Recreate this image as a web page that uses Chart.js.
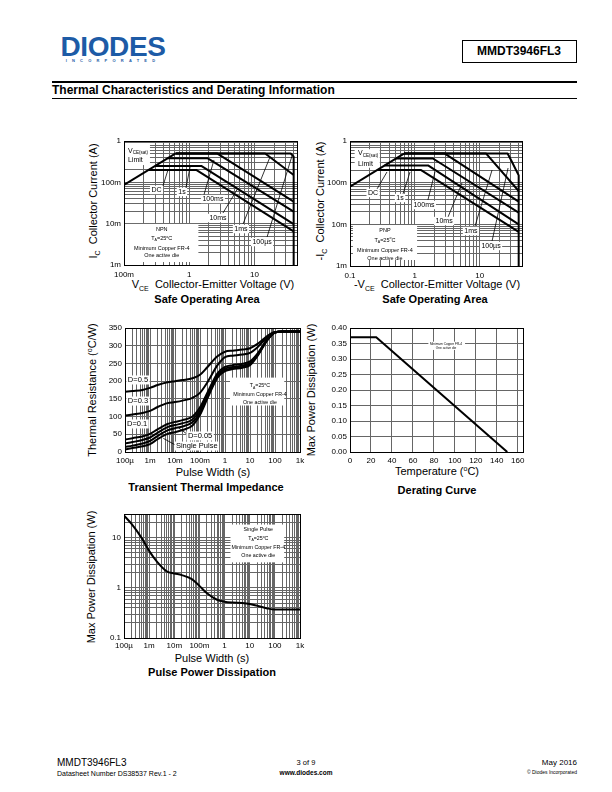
<!DOCTYPE html>
<html>
<head>
<meta charset="utf-8">
<script src="https://cdn.jsdelivr.net/npm/chart.js@4.4.1/dist/chart.umd.min.js"></script>
<style>
  body { margin: 0; width: 612px; height: 792px; background: #fff; position: relative; overflow: hidden;
         font-family: 'Liberation Sans', Arial, Helvetica, sans-serif; color: #000; }
  .t { position: absolute; white-space: nowrap; line-height: 1; transform: translate(-50%, -50%); }
  .l { position: absolute; white-space: nowrap; line-height: 1; transform: translate(0, -50%); }
  .rt { position: absolute; white-space: nowrap; line-height: 1; transform: translate(0, -50%); text-align: right; }
  .v { position: absolute; white-space: nowrap; line-height: 1; transform: translate(-50%, -50%) rotate(-90deg); font-size: 11px; }
  .ax { font-size: 11px; }
  .cap { font-size: 11px; font-weight: bold; }
  sub { font-size: 7px; vertical-align: -3px; line-height: 0; }
  sup { font-size: 7px; vertical-align: 4px; line-height: 0; }
  canvas { position: absolute; }
</style>
</head>
<body>

<!-- header -->
<div class="t" style="left:113px; top:47px; font-size:28px; font-weight:bold; color:#1d5ba6; letter-spacing:-0.4px;">DIODES</div>
<div class="t" style="left:113px; top:61px; font-size:4px; font-weight:bold; color:#1d5ba6; letter-spacing:5.2px;">INCORPORATED</div>
<div style="position:absolute; left:462px; top:40px; width:113px; height:21px; border:1px solid #000;"></div>
<div class="t" style="left:519px; top:51px; font-size:12px; font-weight:bold;">MMDT3946FL3</div>
<div style="position:absolute; left:52px; top:81px; width:525px; height:2px; background:#000;"></div>
<div class="l" style="left:52px; top:90px; font-size:12px; font-weight:bold;">Thermal Characteristics and Derating Information</div>
<div style="position:absolute; left:52px; top:98px; width:525px; height:1px; background:#000;"></div>

<!-- SOA NPN texts -->
<div class="v" style="left:93px; top:201px;">I<sub>C</sub>&nbsp; Collector Current (A)</div>
<div class="t ax" style="left:213px; top:284px;">V<sub>CE</sub>&nbsp; Collector-Emitter Voltage (V)</div>
<div class="t cap" style="left:207px; top:299px;">Safe Operating Area</div>

<!-- SOA PNP texts -->
<div class="v" style="left:320px; top:201px;">-I<sub>C</sub>&nbsp; Collector Current (A)</div>
<div class="t ax" style="left:437px; top:284px;">-V<sub>CE</sub>&nbsp; Collector-Emitter Voltage (V)</div>
<div class="t cap" style="left:435px; top:299px;">Safe Operating Area</div>

<!-- transient texts -->
<div class="v" style="left:92px; top:390px;">Thermal Resistance (<sup>o</sup>C/W)</div>
<div class="t ax" style="left:213px; top:472px;">Pulse Width (s)</div>
<div class="t cap" style="left:206px; top:487px;">Transient Thermal Impedance</div>

<!-- derating texts -->
<div class="v" style="left:311px; top:390px;">Max Power Dissipation (W)</div>
<div class="t ax" style="left:437px; top:471px;">Temperature (<sup>o</sup>C)</div>
<div class="t cap" style="left:437px; top:490px;">Derating Curve</div>

<!-- pulse power texts -->
<div class="v" style="left:91px; top:577px;">Max Power Dissipation (W)</div>
<div class="t ax" style="left:212px; top:658px;">Pulse Width (s)</div>
<div class="t cap" style="left:212px; top:672px;">Pulse Power Dissipation</div>

<!-- footer -->
<div class="l" style="left:57px; top:763px; font-size:10px;">MMDT3946FL3</div>
<div class="l" style="left:57px; top:773px; font-size:7px;">Datasheet Number DS38537 Rev.1 - 2</div>
<div class="t" style="left:306px; top:763px; font-size:7.5px;">3 of 9</div>
<div class="t" style="left:306px; top:773px; font-size:6.5px; font-weight:bold;">www.diodes.com</div>
<div class="rt" style="right:35px; top:763px; font-size:8px;">May 2016</div>
<div class="rt" style="right:35px; top:772px; font-size:5px;">&copy; Diodes Incorporated</div>

<script>
// ---- Safe Operating Area, NPN  [V, A] ----
const npnLimit = [[0.1, 0.087], [0.62, 0.5]];
const npnDC    = [[0.238, 0.2], [1.28, 0.2], [40, 0.0065]];
const npn1s    = [[0.3, 0.25], [1.53, 0.25], [40, 0.0098]];
const npn100ms = [[0.466, 0.38], [1.93, 0.38], [40, 0.0196]];
const npn10ms  = [[0.62, 0.5], [2.67, 0.5], [40, 0.034]];
const npn1ms   = [[0.62, 0.5], [14.6, 0.5], [40, 0.15]];
const npn100us = [[0.62, 0.5], [36, 0.5], [40, 0.42], [40, 0.001]];

// ---- Safe Operating Area, PNP  [-V, -A] ----
const pnpLimit = [[0.1, 0.08], [0.68, 0.5]];
const pnpDC    = [[0.26, 0.2], [1.25, 0.2], [40, 0.0066]];
const pnp1s    = [[0.34, 0.26], [1.6, 0.26], [40, 0.01]];
const pnp100ms = [[0.51, 0.38], [1.9, 0.38], [40, 0.019]];
const pnp10ms  = [[0.68, 0.5], [2.9, 0.5], [40, 0.035]];
const pnp1ms   = [[0.68, 0.5], [12.6, 0.5], [40, 0.063]];
const pnp100us = [[0.68, 0.5], [27, 0.5], [32, 0.3], [40, 0.15], [40, 0.001]];

const soaYTicks  = [1, 0.1, 0.01, 0.001];
const soaYLabels = ['1', '100m', '10m', '1m'];
const npnXTicks  = [0.1, 1, 10];
const npnXLabels = ['100m', '1', '10'];
const pnpXLabels = ['0.1', '1', '10'];

// ---- Transient thermal impedance (degC/W) ----
const pulseWidth = [1e-4, 2e-4, 5e-4, 1e-3, 2e-3, 5e-3, 1e-2, 2e-2, 5e-2, 0.1, 0.2, 0.5, 1, 2, 5, 10, 20, 50, 100, 200, 1000];
const zthD05  = [170, 172, 175, 181, 189, 197, 200, 203, 208, 218, 240, 270, 283, 286, 289, 293, 305, 328, 339, 340, 340];
const zthD03  = [103, 106, 110, 116, 127, 138, 141, 145, 153, 167, 197, 245, 268, 272, 275, 280, 296, 325, 338, 340, 340];
const zthD01  = [35, 39, 44, 51, 64, 79, 85, 90, 100, 126, 168, 222, 240, 245, 249, 256, 278, 320, 338, 340, 340];
const zthD005 = [24, 28, 34, 41, 54, 70, 76, 81, 92, 118, 162, 217, 235, 240, 244, 251, 275, 318, 337, 340, 340];
const zthD002 = [14, 18, 24, 31, 45, 61, 67, 72, 84, 111, 156, 213, 231, 236, 240, 248, 273, 317, 337, 340, 340];
const zthSingle = [7, 11, 16, 22, 36, 51, 56, 62, 75, 105, 152, 210, 228, 234, 238, 245, 271, 316, 337, 340, 340];
const timeTicks  = [1e-4, 1e-3, 1e-2, 0.1, 1, 10, 100, 1000];
const timeLabels = ['100\u00b5', '1m', '10m', '100m', '1', '10', '100', '1k'];
const zthYTicks  = [0, 50, 100, 150, 200, 250, 300, 350];

// ---- Derating curve ----
const tempC  = [0, 25, 150];
const maxPd  = [0.37, 0.37, 0];
const tempTicks = [0, 20, 40, 60, 80, 100, 120, 140, 160];
const pdTicks   = [0, 0.05, 0.1, 0.15, 0.2, 0.25, 0.3, 0.35, 0.4];

// ---- Pulse power dissipation (W) ----
const pulsePower = [28, 19, 10, 5.5, 3.4, 2.15, 1.95, 1.8, 1.5, 1.1, 0.78, 0.58, 0.53, 0.51, 0.5, 0.48, 0.44, 0.39, 0.37, 0.37, 0.37];
const powerTicks  = [0.1, 1, 10];
const powerLabels = ['0.1', '1', '10'];

Chart.defaults.font.family = "'Liberation Sans', Arial, Helvetica, sans-serif";
Chart.defaults.font.size = 8;
Chart.defaults.color = '#000';

const FONT = "'Liberation Sans', Arial, Helvetica, sans-serif";
const PAD_L = 42, PAD_T = 6, PAD_R = 14, PAD_B = 16;

function logTicks(min, max) {
    const out = [];
    for (let e = Math.floor(Math.log10(min)); e <= Math.ceil(Math.log10(max)); e++) {
        for (let m = 1; m <= 9; m++) {
            const v = Number((m * Math.pow(10, e)).toPrecision(6));
            if (v >= min * 0.9999 && v <= max * 1.0001) out.push(v);
        }
    }
    return out;
}

function labelFor(values, labels) {
    return v => {
        const i = values.findIndex(t => Math.abs(t - v) <= Math.abs(t) * 1e-6 + 1e-12);
        return i < 0 ? '' : labels[i];
    };
}

function axis(isX, type, min, max, gridVals, labelVals, labels, pad) {
    return {
        type: type, min: min, max: max,
        afterBuildTicks: s => { s.ticks = gridVals.map(v => ({ value: v })); },
        afterFit: s => {
            if (isX) s.height = PAD_B; else s.width = PAD_L;
            s.paddingLeft = 0; s.paddingRight = 0; s.paddingTop = 0; s.paddingBottom = 0;
        },
        ticks: { autoSkip: false, maxRotation: 0, minRotation: 0, padding: pad, color: '#000',
                 font: { size: 8 }, callback: labelFor(labelVals, labels) },
        grid: { color: '#666', lineWidth: 1, drawTicks: false },
        border: { display: false }
    };
}

// text with sub/superscript parts: [text, 'n'|'s'|'p']
function drawRich(ctx, x, y, parts, size, align, bg) {
    let total = 0;
    const widths = parts.map(p => {
        const sz = (p[1] === 's' || p[1] === 'p') ? size * 0.65 : size;
        ctx.font = sz + 'px ' + FONT;
        const w = ctx.measureText(p[0]).width;
        total += w;
        return w;
    });
    let sx = align === 'left' ? x : align === 'right' ? x - total : x - total / 2;
    if (bg) {
        ctx.fillStyle = '#fff';
        ctx.fillRect(sx - 1.5, y - size * 0.6, total + 3, size * 1.2);
    }
    ctx.fillStyle = '#000';
    ctx.textBaseline = 'middle';
    ctx.textAlign = 'left';
    parts.forEach((p, i) => {
        const sz = (p[1] === 's' || p[1] === 'p') ? size * 0.65 : size;
        const dy = p[1] === 's' ? size * 0.3 : p[1] === 'p' ? -size * 0.3 : 0;
        ctx.font = sz + 'px ' + FONT;
        ctx.fillText(p[0], sx, y + dy);
        sx += widths[i];
    });
}

function notesPlugin(notes) {
    return {
        id: 'notes',
        beforeDatasetsDraw(chart) {
            const ctx = chart.ctx, a = chart.chartArea;
            const X = f => a.left + f * (a.right - a.left);
            const Y = f => a.top + f * (a.bottom - a.top);
            ctx.save();
            (notes.boxes || []).forEach(b => {
                ctx.fillStyle = '#fff';
                ctx.fillRect(X(b[0]), Y(b[1]), X(b[2]) - X(b[0]), Y(b[3]) - Y(b[1]));
            });
            ctx.strokeStyle = '#000';
            ctx.lineWidth = 0.8;
            (notes.leaders || []).forEach(l => {
                ctx.beginPath();
                ctx.moveTo(X(l[0]), Y(l[1]));
                ctx.lineTo(X(l[2]), Y(l[3]));
                ctx.stroke();
            });
            (notes.texts || []).forEach(t => drawRich(ctx, X(t.x), Y(t.y), t.parts, t.size, t.align || 'center', t.bg));
            ctx.restore();
        },
        afterDraw(chart) {
            const ctx = chart.ctx, a = chart.chartArea;
            ctx.save();
            ctx.strokeStyle = '#000';
            ctx.lineWidth = 1;
            ctx.strokeRect(a.left + 0.5, a.top + 0.5, a.right - a.left, a.bottom - a.top);
            ctx.restore();
        }
    };
}

function makeChart(rect, datasets, xAxis, yAxis, notes) {
    const c = document.createElement('canvas');
    const w = rect.r - rect.l + PAD_L + PAD_R, h = rect.b - rect.t + PAD_T + PAD_B;
    c.width = w; c.height = h;
    c.style.left = (rect.l - PAD_L) + 'px';
    c.style.top = (rect.t - PAD_T) + 'px';
    c.style.width = w + 'px';
    c.style.height = h + 'px';
    document.body.appendChild(c);
    return new Chart(c.getContext('2d'), {
        type: 'scatter',
        data: { datasets: datasets },
        options: {
            responsive: false,
            animation: false,
            events: [],
            layout: { padding: { left: 0, top: PAD_T, right: PAD_R, bottom: 0 } },
            plugins: { legend: { display: false }, tooltip: { enabled: false } },
            scales: { x: xAxis, y: yAxis }
        },
        plugins: [notesPlugin(notes)]
    });
}

function pairLine(points, width) {
    return {
        data: points.map(p => ({ x: p[0], y: p[1] })),
        showLine: true, borderColor: '#000', borderWidth: width || 2, pointRadius: 0,
        tension: 0, borderJoinStyle: 'round', fill: false
    };
}

function smoothLine(xs, ys) {
    return {
        data: xs.map((x, i) => ({ x: x, y: ys[i] })),
        showLine: true, borderColor: '#000', borderWidth: 2, pointRadius: 0,
        cubicInterpolationMode: 'monotone', fill: false
    };
}

const T = s => [[s, 'n']];
const TA = [['T', 'n'], ['A', 's'], ['=25', 'n'], ['o', 'p'], ['C', 'n']];
const VSAT = [['V', 'n'], ['CE(sat)', 's']];

// ---------------- SOA NPN ----------------
makeChart({ l: 124, t: 141, r: 297, b: 265 },
    [npnLimit, npnDC, npn1s, npn100ms, npn10ms, npn1ms, npn100us].map(p => pairLine(p)),
    axis(true, 'logarithmic', 0.1, 45, logTicks(0.1, 45), npnXTicks, npnXLabels, 5),
    axis(false, 'logarithmic', 0.001, 1, logTicks(0.001, 1), soaYTicks, soaYLabels, 3),
    {
        boxes: [[0.006, 0.016, 0.15, 0.194], [0.006, 0.669, 0.43, 0.976]],
        leaders: [[0.225, 0.363, 0.254, 0.234], [0.358, 0.379, 0.382, 0.21], [0.462, 0.435, 0.52, 0.153],
                  [0.572, 0.581, 0.659, 0.379], [0.688, 0.669, 0.844, 0.129], [0.827, 0.774, 0.971, 0.121]],
        texts: [
            { x: 0.023, y: 0.081, parts: VSAT, size: 7, align: 'left' },
            { x: 0.023, y: 0.153, parts: T('Limit'), size: 7, align: 'left' },
            { x: 0.188, y: 0.395, parts: T('DC'), size: 7, bg: true },
            { x: 0.335, y: 0.411, parts: T('1s'), size: 7, bg: true },
            { x: 0.514, y: 0.468, parts: T('100ms'), size: 7, bg: true },
            { x: 0.543, y: 0.621, parts: T('10ms'), size: 7, bg: true },
            { x: 0.676, y: 0.71, parts: T('1ms'), size: 7, bg: true },
            { x: 0.798, y: 0.815, parts: T('100\u00b5s'), size: 7, bg: true },
            { x: 0.218, y: 0.714, parts: T('NPN'), size: 5.5 },
            { x: 0.218, y: 0.786, parts: TA, size: 5.5 },
            { x: 0.218, y: 0.863, parts: T('Minimum Copper FR-4'), size: 5.5 },
            { x: 0.218, y: 0.927, parts: T('One active die'), size: 5.5 }
        ]
    });

// ---------------- SOA PNP ----------------
makeChart({ l: 350, t: 141, r: 522, b: 266 },
    [pnpLimit, pnpDC, pnp1s, pnp100ms, pnp10ms, pnp1ms, pnp100us].map(p => pairLine(p)),
    axis(true, 'logarithmic', 0.1, 45, logTicks(0.1, 45), npnXTicks, pnpXLabels, 5),
    axis(false, 'logarithmic', 0.001, 1, logTicks(0.001, 1), soaYTicks, soaYLabels, 3),
    {
        boxes: [[0.027, 0.066, 0.173, 0.214], [0.017, 0.672, 0.39, 0.952]],
        leaders: [[0.157, 0.384, 0.215, 0.248], [0.308, 0.424, 0.349, 0.248], [0.453, 0.472, 0.494, 0.248],
                  [0.57, 0.608, 0.651, 0.336], [0.727, 0.68, 0.826, 0.232], [0.826, 0.8, 0.919, 0.216]],
        texts: [
            { x: 0.047, y: 0.098, parts: VSAT, size: 7, align: 'left' },
            { x: 0.047, y: 0.186, parts: T('Limit'), size: 7, align: 'left' },
            { x: 0.134, y: 0.416, parts: T('DC'), size: 7, bg: true },
            { x: 0.291, y: 0.456, parts: T('1s'), size: 7, bg: true },
            { x: 0.43, y: 0.512, parts: T('100ms'), size: 7, bg: true },
            { x: 0.547, y: 0.64, parts: T('10ms'), size: 7, bg: true },
            { x: 0.703, y: 0.72, parts: T('1ms'), size: 7, bg: true },
            { x: 0.82, y: 0.84, parts: T('100\u00b5s'), size: 7, bg: true },
            { x: 0.203, y: 0.712, parts: T('PNP'), size: 5.5 },
            { x: 0.203, y: 0.792, parts: TA, size: 5.5 },
            { x: 0.203, y: 0.872, parts: T('Minimum Copper FR-4'), size: 5.5 },
            { x: 0.203, y: 0.936, parts: T('One active die'), size: 5.5 }
        ]
    });

// ---------------- Transient thermal impedance ----------------
makeChart({ l: 125, t: 328, r: 300, b: 452 },
    [zthD05, zthD03, zthD01, zthD005, zthD002, zthSingle].map(z => smoothLine(pulseWidth, z)),
    axis(true, 'logarithmic', 1e-4, 1000, logTicks(1e-4, 1000), timeTicks, timeLabels, 4),
    axis(false, 'linear', 0, 350, zthYTicks, zthYTicks, zthYTicks.map(String), 3),
    {
        boxes: [[0.6, 0.4, 0.91, 0.625]],
        leaders: [[0.356, 0.857, 0.305, 0.804], [0.295, 0.949, 0.219, 0.89]],
        texts: [
            { x: 0.074, y: 0.419, parts: T('D=0.5'), size: 7.5, bg: true },
            { x: 0.074, y: 0.589, parts: T('D=0.3'), size: 7.5, bg: true },
            { x: 0.069, y: 0.774, parts: T('D=0.1'), size: 7.5, bg: true },
            { x: 0.429, y: 0.871, parts: T('D=0.05'), size: 7.5, bg: true },
            { x: 0.41, y: 0.952, parts: T('Single Pulse'), size: 7.5, bg: true },
            { x: 0.771, y: 0.468, parts: TA, size: 5.3 },
            { x: 0.771, y: 0.54, parts: T('Minimum Copper FR-4'), size: 5.3 },
            { x: 0.771, y: 0.602, parts: T('One active die'), size: 5.3 }
        ]
    });

// ---------------- Derating curve ----------------
makeChart({ l: 350, t: 328, r: 523, b: 452 },
    [smoothLine(tempC, maxPd)].map(d => Object.assign(d, { cubicInterpolationMode: 'default', tension: 0 })),
    axis(true, 'linear', 0, 165, tempTicks, tempTicks, tempTicks.map(String), 4),
    axis(false, 'linear', 0, 0.4, pdTicks, pdTicks, pdTicks.map(v => v.toFixed(2)), 3),
    {
        boxes: [[0.453, 0.11, 0.665, 0.177]],
        texts: [
            { x: 0.555, y: 0.133, parts: T('Minimum Copper FR-4'), size: 3.2 },
            { x: 0.555, y: 0.165, parts: T('One active die'), size: 3.2 }
        ]
    });

// ---------------- Pulse power dissipation ----------------
makeChart({ l: 124, t: 514, r: 300, b: 638 },
    [smoothLine(pulseWidth, pulsePower)],
    axis(true, 'logarithmic', 1e-4, 1000, logTicks(1e-4, 1000), timeTicks, timeLabels, 3),
    axis(false, 'logarithmic', 0.1, 30, logTicks(0.1, 30), powerTicks, powerLabels, 3),
    {
        boxes: [[0.605, 0.085, 0.91, 0.39]],
        texts: [
            { x: 0.763, y: 0.123, parts: T('Single Pulse'), size: 5.3 },
            { x: 0.763, y: 0.196, parts: TA, size: 5.3 },
            { x: 0.763, y: 0.272, parts: T('Minimum Copper FR-4'), size: 5.3 },
            { x: 0.763, y: 0.337, parts: T('One active die'), size: 5.3 }
        ]
    });
</script>
</body>
</html>
